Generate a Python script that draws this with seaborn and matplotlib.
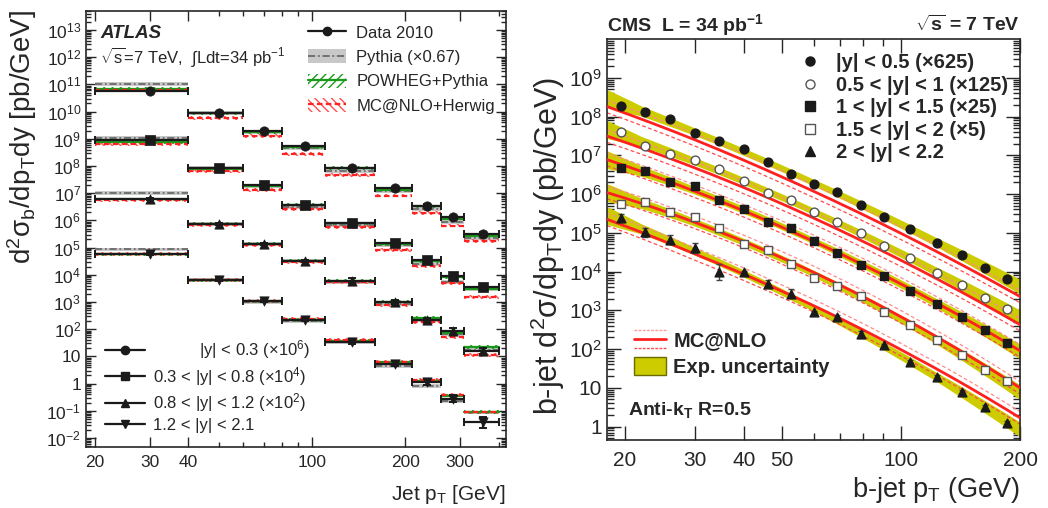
import numpy as np
import pandas as pd
import seaborn as sns
import matplotlib
matplotlib.use("Agg")
import matplotlib.pyplot as plt
from matplotlib.lines import Line2D
from matplotlib.patches import Patch
from matplotlib.legend_handler import HandlerBase
from matplotlib.ticker import FixedLocator, FuncFormatter, NullFormatter

# ------------------------------------------------------------------ ATLAS (left)
atlas_lo = [20, 40, 60, 80, 110, 160, 210, 260, 310]
atlas_hi = [40, 60, 80, 110, 160, 210, 260, 310, 400]
atlas_pt = [30, 50, 70, 95, 135, 185, 235, 285, 355]
atlas_labels = [r"          |y| < 0.3 (×10$^{6}$)", r"0.3 < |y| < 0.8 (×10$^{4}$)",
                r"0.8 < |y| < 1.2 (×10$^{2}$)", "1.2 < |y| < 2.1"]
atlas_markers = ["o", "s", "^", "v"]
atlas_y1 = [5.7e10, 9.0e9, 1.9e9, 5.5e8, 8.5e7, 1.5e7, 3.5e6, 1.3e6, 3.2e5]
atlas_y2 = [9.0e8, 8.5e7, 2.0e7, 3.8e6, 8.3e5, 1.5e5, 3.5e4, 9.3e3, 3.7e3]
atlas_y3 = [6.3e6, 7.6e5, 1.4e5, 3.3e4, 6.2e3, 1.0e3, 2.2e2, 83, 16]
atlas_y4 = [5.9e4, 6.6e3, 1.07e3, 2.2e2, 35, 5.5, 1.15, 0.28, 0.038]
atlas_err1 = [0.10, 0.08, 0.08, 0.08, 0.08, 0.10, 0.12, 0.15, 0.15]
atlas_err2 = [0.10, 0.08, 0.10, 0.10, 0.12, 0.15, 0.18, 0.15, 0.15]
atlas_err3 = [0.10, 0.10, 0.10, 0.10, 0.25, 0.20, 0.20, 0.30, 0.30]
atlas_err4 = [0.10, 0.15, 0.10, 0.10, 0.20, 0.20, 0.25, 0.35, 0.62]
pythia_r1 = [1.8, 1.0, 0.9, 0.85, 0.8, 0.8, 0.75, 0.65, 0.7]
pythia_r2 = [1.2, 1.0, 0.9, 0.85, 0.8, 0.8, 0.7, 0.6, 0.8]
pythia_r3 = [1.6, 1.0, 1.0, 1.0, 0.9, 0.85, 1.0, 0.8, 1.1]
pythia_r4 = [1.45, 1.0, 0.95, 0.95, 0.95, 0.8, 0.7, 0.85, 2.3]
powheg_r1 = [1.2, 0.95, 0.95, 0.9, 1.0, 0.9, 0.95, 0.9, 0.85]
powheg_r2 = [0.85, 0.95, 0.95, 1.0, 0.95, 0.9, 0.9, 0.9, 0.85]
powheg_r3 = [0.95, 1.0, 1.0, 1.0, 1.0, 1.0, 1.2, 0.9, 1.4]
powheg_r4 = [0.95, 0.95, 1.0, 1.0, 1.05, 1.1, 1.1, 1.3, 2.4]
mcnlo_r1 = [1.1, 0.65, 0.65, 0.5, 0.55, 0.55, 0.55, 0.5, 0.55]
mcnlo_r2 = [0.7, 0.8, 0.65, 0.7, 0.7, 0.55, 0.6, 0.55, 0.4]
mcnlo_r3 = [0.9, 0.9, 0.9, 0.9, 0.85, 0.75, 0.85, 0.6, 0.7]
mcnlo_r4 = [1.0, 0.95, 1.05, 1.1, 1.15, 1.15, 1.2, 1.4, 2.3]

# ------------------------------------------------------------------ CMS (right)
cms_pt = [19.5, 22.5, 26, 30, 34.5, 40, 46, 52.5, 60, 69, 79, 90.5, 105.5, 123.5, 143, 163.5, 185]
cms_labels = ["|y| < 0.5 (×625)", "0.5 < |y| < 1 (×125)", "1 < |y| < 1.5 (×25)",
              "1.5 < |y| < 2 (×5)", "2 < |y| < 2.2"]
cms_y1 = [1.86e8, 1.32e8, 8.5e7, 3.8e7, 2.34e7, 1.48e7, 6.6e6, 3.2e6, 1.8e6, 1.12e6,
          5.1e5, 2.6e5, 1.26e5, 5.5e4, 2.7e4, 1.26e4, 6.3e3]
cms_y2 = [4.1e7, 1.74e7, 1.07e7, 7.4e6, 4.4e6, 2.2e6, 1.07e6, 7.2e5, 3.5e5, 1.95e5,
          9.8e4, 4.6e4, 2.24e4, 9.3e3, 4.4e3, 2.1e3, 1.05e3]
cms_y3 = [4.7e6, 4.0e6, 2.1e6, 1.6e6, 7.1e5, 4.0e5, 1.95e5, 1.35e5, 6.3e4, 3.0e4,
          1.45e4, 7.6e3, 3.2e3, 1.48e3, 6.8e2, 3.1e2, 1.45e2]
cms_y4 = [5.5e5, 6.3e5, 3.5e5, 2.5e5, 1.35e5, 5.1e4, 3.5e4, 1.6e4, 6.8e3, 4.2e3,
          2.3e3, 9.3e2, 4.1e2, 1.7e2, 69, 28, 15]
cms_y5 = [2.4e5, 1.02e5, 6.6e4, 4.1e4, 9.5e3, 9.5e3, 4.9e3, 2.7e3, 9.1e2, 6.8e2,
          2.4e2, 1.26e2, 47, 19.5, 7.9, 3.2, 1.26]
cms_err5 = [0.25, 0.3, 0.3, 0.35, 0.6, 0.08, 0.25, 0.3, 0.08, 0.08, 0.25, 0.08, 0.08, 0.08, 0.1, 0.1, 0.1]
# MC@NLO / fit ratio, read at these pT nodes
mc_nodes = [18, 30, 50, 100, 200]
mc_ratio1 = [0.62, 0.62, 0.6, 0.58, 0.56]
mc_ratio2 = [0.68, 0.68, 0.68, 0.66, 0.65]
mc_ratio3 = [1.0, 0.95, 0.95, 1.0, 1.05]
mc_ratio4 = [1.0, 1.0, 1.05, 1.15, 1.3]
mc_ratio5 = [0.8, 0.85, 1.05, 1.45, 2.0]
# experimental band half-width factor at nodes
band_nodes = [18, 22, 30, 60, 120, 200]
band_factor = [1.7, 1.35, 1.25, 1.22, 1.3, 1.55]

# ------------------------------------------------------------------ style
sns.set_theme(style="ticks")
plt.rcParams["font.family"] = ["Liberation Sans", "DejaVu Sans"]
plt.rcParams["mathtext.fontset"] = "custom"
plt.rcParams["mathtext.rm"] = "Liberation Sans"
plt.rcParams["mathtext.it"] = "Liberation Sans:italic"
plt.rcParams["mathtext.bf"] = "Liberation Sans:bold"
plt.rcParams["mathtext.sf"] = "Liberation Sans"
plt.rcParams["mathtext.default"] = "regular"
plt.rcParams["hatch.linewidth"] = 1.0
plt.rcParams["axes.linewidth"] = 1.2

fig = plt.figure(figsize=(10.48, 5.08), dpi=100)
axL = fig.add_axes([86 / 1048, 1 - 447 / 508, 420 / 1048, 436 / 508])
axR = fig.add_axes([607 / 1048, 1 - 440 / 508, 413 / 1048, 401 / 508])


def logfmt(v, pos):
    e = int(round(np.log10(v)))
    if e == 0:
        return "1"
    if e == 1:
        return "10"
    return r"$10^{%d}$" % e


GRAY_BAND = "#c8c8c8"
GRAY_LINE = "#6a6a6a"
GREEN = "#1a9a1a"
RED = "#ff2020"

# ------------------------------------------------------------------ left panel
axL.set_xscale("log")
axL.set_yscale("log")
axL.set_xlim(18.7, 422)
axL.set_ylim(4.7e-3, 5e13)

lo = np.array(atlas_lo, float)
hi = np.array(atlas_hi, float)
pt = np.array(atlas_pt, float)
series = [
    (atlas_y1, atlas_err1, pythia_r1, powheg_r1, mcnlo_r1),
    (atlas_y2, atlas_err2, pythia_r2, powheg_r2, mcnlo_r2),
    (atlas_y3, atlas_err3, pythia_r3, powheg_r3, mcnlo_r3),
    (atlas_y4, atlas_err4, pythia_r4, powheg_r4, mcnlo_r4),
]
for (yv, ev, pr, pw, mc) in series:
    yv = np.array(yv, float)
    for i in range(len(yv)):
        xs = [lo[i], hi[i]]
        c = yv[i] * pr[i]
        axL.fill_between(xs, [c / 1.18] * 2, [c * 1.18] * 2, color=GRAY_BAND, lw=0, zorder=1)
        c = yv[i] * pw[i]
        axL.fill_between(xs, [c / 1.15] * 2, [c * 1.15] * 2, facecolor="none", edgecolor=GREEN,
                         hatch="////", lw=0, zorder=2)
        c = yv[i] * mc[i]
        axL.fill_between(xs, [c / 1.18] * 2, [c * 1.18] * 2, facecolor="none", edgecolor="#ff5050",
                         hatch="\\\\\\\\", lw=0, zorder=2)
    for i in range(len(yv)):
        xs = [lo[i], hi[i]]
        axL.plot(xs, [yv[i] * pr[i]] * 2, color=GRAY_LINE, lw=1.3, ls=(0, (4, 1.5, 1, 1.5)), zorder=3)
        axL.plot(xs, [yv[i] * pw[i]] * 2, color=GREEN, lw=1.6, zorder=3)
        axL.plot(xs, [yv[i] * mc[i]] * 2, color=RED, lw=1.6, ls=(0, (2.5, 1.5)), zorder=3)

for k, (yv, ev, pr, pw, mc) in enumerate(series):
    yv = np.array(yv, float)
    ev = np.array(ev, float)
    axL.errorbar(pt, yv, xerr=[pt - lo, hi - pt], yerr=[yv * ev / (1 + ev), yv * ev],
                 fmt="none", ecolor="k", elinewidth=1.6, capsize=3, capthick=1.4, zorder=5)
    df = pd.DataFrame({"pt": pt, "y": yv})
    sns.scatterplot(data=df, x="pt", y="y", marker=atlas_markers[k], color="k", s=45,
                    edgecolor="k", linewidth=0.5, ax=axL, zorder=6, legend=False)

axL.yaxis.set_major_locator(FixedLocator([10.0 ** e for e in range(-2, 14)]))
axL.yaxis.set_minor_locator(FixedLocator([m * 10.0 ** e for e in range(-3, 14) for m in range(2, 10)]))
axL.yaxis.set_major_formatter(FuncFormatter(logfmt))
axL.yaxis.set_minor_formatter(NullFormatter())
axL.xaxis.set_major_locator(FixedLocator([20, 30, 40, 100, 200, 300]))
axL.xaxis.set_minor_locator(FixedLocator([50, 60, 70, 80, 90, 400]))
axL.xaxis.set_major_formatter(FuncFormatter(lambda v, p: "%d" % v))
axL.xaxis.set_minor_formatter(NullFormatter())
axL.tick_params(which="both", direction="in", top=True, right=True, labelsize=12.5, width=1)
axL.tick_params(which="major", length=7)
axL.tick_params(which="minor", length=3.5)
axL.tick_params(axis="x", pad=6)
axL.set_xlabel("")
axL.set_ylabel("")

fig.text(506 / 1048, 1 - 495 / 508, r"Jet p$_{T}$ [GeV]", ha="right", va="center", fontsize=15)
fig.text(22 / 1048, 1 - 10 / 508, r"d$^{2}$σ$_{b}$/dp$_{T}$dy [pb/GeV]", rotation=90,
         ha="center", va="top", fontsize=20)
axL.text((100 - 86) / 420, 1 - (33 - 11) / 436, "ATLAS", transform=axL.transAxes, fontsize=13.5,
         fontweight="bold", fontstyle="italic", va="center", ha="left")
axL.text((100 - 86) / 420, 1 - (57 - 11) / 436, r"$\sqrt{s}$=7 TeV,  $\int$Ldt=34 pb$^{-1}$",
         transform=axL.transAxes, fontsize=12, va="center", ha="left")

h_data = Line2D([], [], color="k", marker="o", ms=6, lw=1.6)
h_py = (Patch(facecolor=GRAY_BAND, edgecolor="none"),
        Line2D([], [], color=GRAY_LINE, lw=1.3, ls=(0, (4, 1.5, 1, 1.5))))
h_pw = (Patch(facecolor="none", edgecolor=GREEN, hatch="////", lw=0),
        Line2D([], [], color=GREEN, lw=1.6))
h_mc = (Patch(facecolor="none", edgecolor="#ff5050", hatch="\\\\\\\\", lw=0),
        Line2D([], [], color=RED, lw=1.6, ls=(0, (2.5, 1.5))))
legA = axL.legend([h_data, h_py, h_pw, h_mc],
                  ["Data 2010", "Pythia (×0.67)", "POWHEG+Pythia", "MC@NLO+Herwig"],
                  loc="upper left", bbox_to_anchor=((308 - 86) / 420, 1 - (25 - 11) / 436),
                  frameon=False, fontsize=12, handlelength=2.3, handleheight=0.9,
                  labelspacing=0.52, handletextpad=0.6, borderpad=0, borderaxespad=0)
axL.add_artist(legA)
rap_handles = [Line2D([], [], color="k", marker=m, ms=6, lw=1.6) for m in atlas_markers]
axL.legend(rap_handles, atlas_labels, loc="lower left",
           bbox_to_anchor=((105 - 86) / 420, (447 - 433) / 436), frameon=False, fontsize=12,
           handlelength=2.4, labelspacing=0.22, handletextpad=0.5, borderpad=0, borderaxespad=0)

# ------------------------------------------------------------------ right panel
axR.set_xscale("log")
axR.set_yscale("log")
axR.set_xlim(18, 200)
axR.set_ylim(0.45, 1e10)

grid = np.logspace(np.log10(18), np.log10(200), 200)
lgrid = np.log10(grid)
cpt = np.array(cms_pt, float)
bf = np.interp(lgrid, np.log10(band_nodes), band_factor)
cms_series = [
    (cms_y1, mc_ratio1, "o", "k", "k"),
    (cms_y2, mc_ratio2, "o", "white", "#555555"),
    (cms_y3, mc_ratio3, "s", "k", "k"),
    (cms_y4, mc_ratio4, "s", "white", "#555555"),
    (cms_y5, mc_ratio5, "^", "k", "k"),
]
BAND = "#cccc00"
for (yv, mr, m, fc, ec) in cms_series:
    coef = np.polyfit(np.log10(cpt), np.log10(yv), 2)
    fit = 10 ** np.polyval(coef, lgrid)
    axR.fill_between(grid, fit / bf, fit * bf, color=BAND, lw=0, zorder=1)
for (yv, mr, m, fc, ec) in cms_series:
    coef = np.polyfit(np.log10(cpt), np.log10(yv), 2)
    fit = 10 ** np.polyval(coef, lgrid)
    mc = fit * np.interp(lgrid, np.log10(mc_nodes), mr)
    sns.lineplot(x=grid, y=mc * 1.45, ax=axR, color="#ff8a8a", lw=0.9, ls=(0, (3, 2)), zorder=2)
    sns.lineplot(x=grid, y=mc / 1.45, ax=axR, color="#ff4a4a", lw=0.9, ls=(0, (3, 2)), zorder=2)
    sns.lineplot(x=grid, y=mc, ax=axR, color=RED, lw=2.0, zorder=3)

y5 = np.array(cms_y5, float)
e5 = np.array(cms_err5, float)
axR.errorbar(cpt, y5, yerr=[y5 * e5 / (1 + e5), y5 * e5], fmt="none", ecolor="#444444",
             elinewidth=1.0, capsize=2, capthick=1.0, zorder=4)
for (yv, mr, m, fc, ec) in cms_series:
    df = pd.DataFrame({"pt": cpt, "y": yv})
    sns.scatterplot(data=df, x="pt", y="y", marker=m, color=fc, edgecolor=ec, linewidth=1.0,
                    s=40, ax=axR, zorder=5, legend=False)

axR.yaxis.set_major_locator(FixedLocator([10.0 ** e for e in range(0, 10)]))
axR.yaxis.set_minor_locator(FixedLocator([m * 10.0 ** e for e in range(-1, 10) for m in range(2, 10)]))
axR.yaxis.set_major_formatter(FuncFormatter(logfmt))
axR.yaxis.set_minor_formatter(NullFormatter())
axR.xaxis.set_major_locator(FixedLocator([20, 30, 40, 50, 100, 200]))
axR.xaxis.set_minor_locator(FixedLocator([60, 70, 80, 90]))
axR.xaxis.set_major_formatter(FuncFormatter(lambda v, p: "%d" % v))
axR.xaxis.set_minor_formatter(NullFormatter())
axR.tick_params(which="both", direction="in", top=True, right=True, labelsize=15, width=1)
axR.tick_params(which="major", length=10)
axR.tick_params(which="minor", length=5)
axR.tick_params(axis="x", pad=8)
axR.set_xlabel("")
axR.set_ylabel("")

fig.text(1020 / 1048, 1 - 490 / 508, r"b-jet p$_{T}$ (GeV)", ha="right", va="center", fontsize=19.5)
fig.text(548 / 1048, 1 - 246 / 508, r"b-jet d$^{2}$σ/dp$_{T}$dy (pb/GeV)", rotation=90,
         ha="center", va="center", fontsize=22)
fig.text(607 / 1048, 1 - 25 / 508, r"CMS  L = 34 pb$^{\mathbf{-1}}$", ha="left", va="center",
         fontsize=14, fontweight="bold")
fig.text(1020 / 1048, 1 - 25 / 508, r"$\sqrt{\mathbf{s}}$ = 7 TeV", ha="right", va="center",
         fontsize=14, fontweight="bold")
axR.text((628 - 607) / 413, (440 - 410) / 401, r"Anti-k$_{\mathbf{T}}$ R=0.5", transform=axR.transAxes,
         fontsize=14, fontweight="bold", ha="left", va="center")

mk_handles = [Line2D([], [], ls="none", marker=m, mfc=fc, mec=ec, mew=1.0, ms=6.5)
              for (yv, mr, m, fc, ec) in cms_series]
legR = axR.legend(mk_handles, cms_labels, loc="upper left",
                  bbox_to_anchor=((798 - 607) / 413, 1 - (53 - 39) / 401), frameon=False,
                  prop={"weight": "bold", "size": 14.5}, handlelength=1.2, handletextpad=0.7,
                  labelspacing=0.18, borderpad=0, borderaxespad=0)
axR.add_artist(legR)


class MCHandler(HandlerBase):
    def create_artists(self, legend, orig_handle, xdescent, ydescent, width, height, fontsize, trans):
        y0 = height / 2 - ydescent
        arts = []
        for dy, ls, c, lw in [(height * 0.5, (0, (2, 1)), "#ff9a9a", 1.0), (0, "-", RED, 2.0),
                              (-height * 0.5, (0, (2, 1)), "#ff4a4a", 1.0)]:
            arts.append(Line2D([-xdescent, -xdescent + width], [y0 + dy] * 2, ls=ls, color=c, lw=lw,
                               transform=trans))
        return arts


h_mcR = Line2D([], [])
h_band = Patch(facecolor=BAND, edgecolor="#6b6b00", lw=1.0)
axR.legend([h_mcR, h_band], ["MC@NLO", "Exp. uncertainty"], handler_map={h_mcR: MCHandler()},
           loc="upper left", bbox_to_anchor=((634 - 607) / 413, (440 - 330) / 401), frameon=False,
           prop={"weight": "bold", "size": 14.5}, handlelength=1.6, handleheight=1.0,
           handletextpad=0.35, labelspacing=0.35, borderpad=0, borderaxespad=0)

fig.savefig("out.png", dpi=100)
